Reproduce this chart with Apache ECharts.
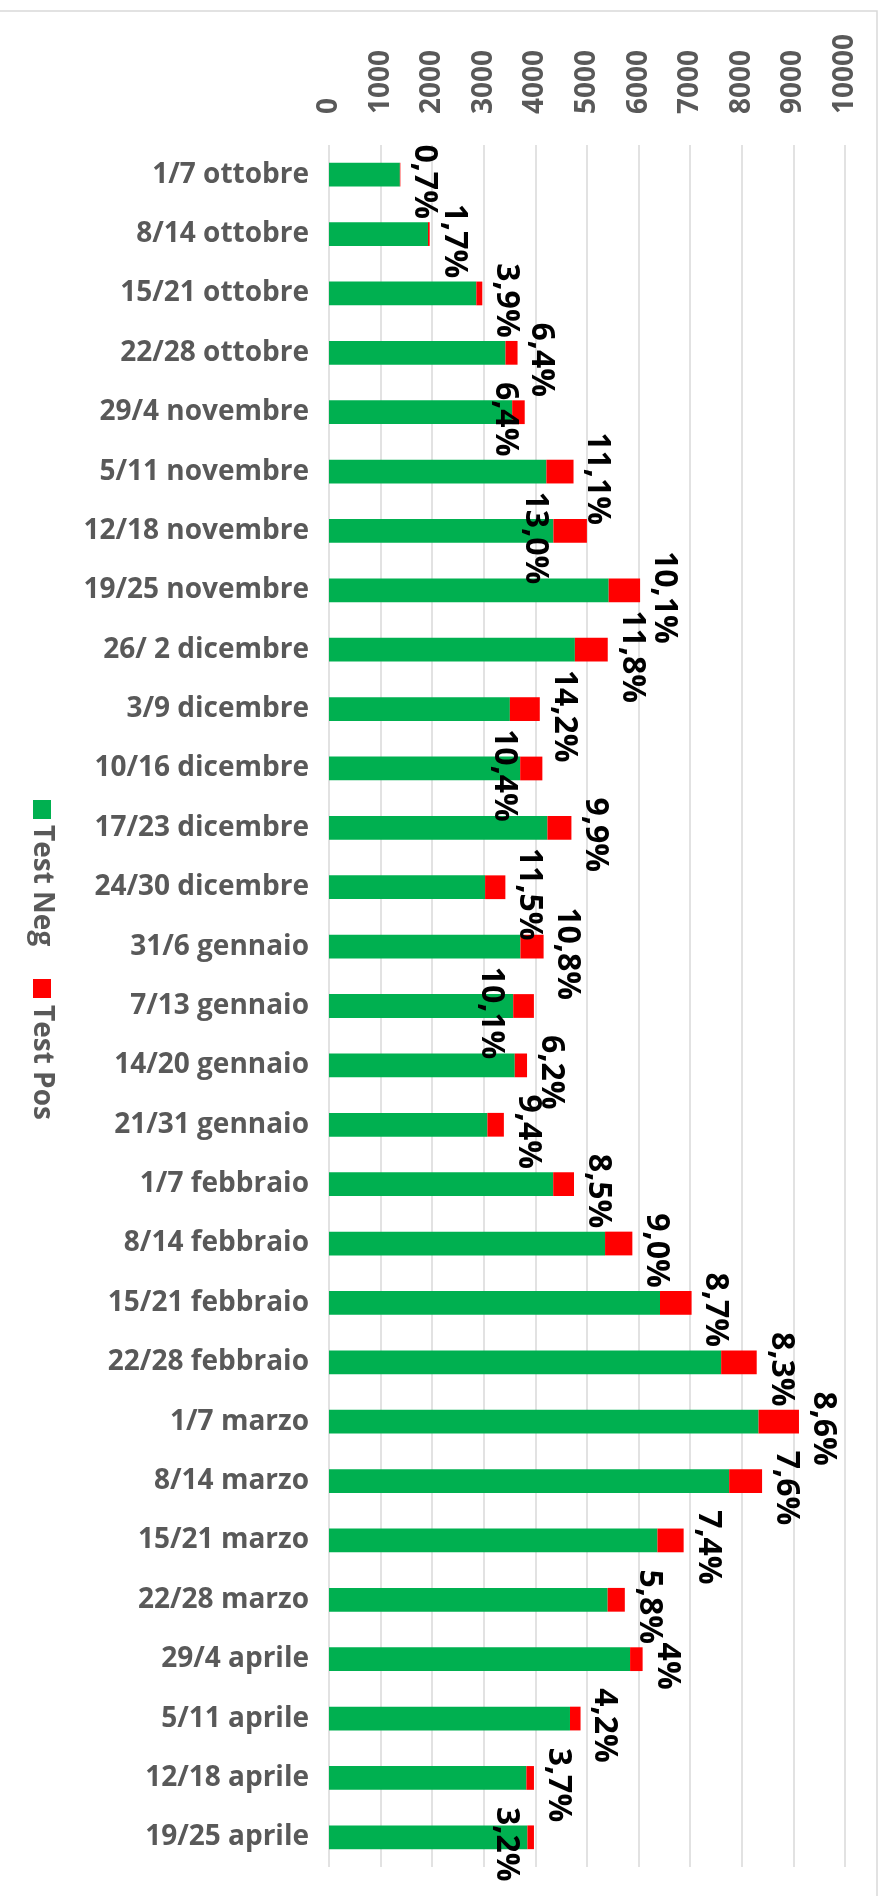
<!DOCTYPE html>
<html>
<head>
<meta charset="utf-8">
<title>Test Neg / Test Pos</title>
<script src="https://cdn.jsdelivr.net/npm/echarts@6/dist/echarts.min.js"></script>
<style>
    html, body { margin: 0; padding: 0; background: #fff; }
    #main { width: 886px; height: 1896px; }
</style>
</head>
<body>
<div id="main"></div>
<script>
// settimane (categorie)
var settimane = [
    '1/7 ottobre', '8/14 ottobre', '15/21 ottobre', '22/28 ottobre',
    '29/4 novembre', '5/11 novembre', '12/18 novembre', '19/25 novembre',
    '26/ 2 dicembre', '3/9 dicembre', '10/16 dicembre', '17/23 dicembre', '24/30 dicembre',
    '31/6 gennaio', '7/13 gennaio', '14/20 gennaio', '21/31 gennaio',
    '1/7 febbraio', '8/14 febbraio', '15/21 febbraio', '22/28 febbraio',
    '1/7 marzo', '8/14 marzo', '15/21 marzo', '22/28 marzo',
    '29/4 aprile', '5/11 aprile', '12/18 aprile', '19/25 aprile'
];
var serieNomi = ['Test Neg', 'Test Pos'];
// test negativi
var testNeg = [
    1373, 1918, 2855, 3420,
    3550, 4213, 4349, 5420,
    4765, 3505, 3705, 4233, 3025,
    3710, 3570, 3600, 3070,
    4345, 5350, 6415, 7600,
    8325, 7755, 6365, 5400,
    5835, 4670, 3825, 3845
];
// test positivi
var testPos = [
    10, 33, 116, 234,
    243, 526, 649, 609,
    637, 580, 430, 465, 393,
    449, 401, 238, 319,
    403, 529, 612, 689,
    783, 638, 508, 333,
    243, 205, 147, 127
];
// percentuale positivi (etichette)
var percentuali = [
    '0,7%', '1,7%', '3,9%', '6,4%',
    '6,4%', '11,1%', '13,0%', '10,1%',
    '11,8%', '14,2%', '10,4%', '9,9%', '11,5%',
    '10,8%', '10,1%', '6,2%', '9,4%',
    '8,5%', '9,0%', '8,7%', '8,3%',
    '8,6%', '7,6%', '7,4%', '5,8%',
    '4%', '4,2%', '3,7%', '3,2%'
];

var FONT = "'Open Sans', 'Noto Sans', sans-serif";
var GRIGIO = '#595959';
var VERDE = '#00b050';
var ROSSO = '#ff0000';

// alcune etichette sono spostate verso sinistra (come nel grafico originale)
var spostaEtichetta = {4: -20, 6: -52, 10: -38, 14: -43, 28: -28};

var datiPos = testPos.map(function (v, i) {
    var item = {value: v};
    if (spostaEtichetta[i] != null) {
        item.label = {distance: spostaEtichetta[i]};
    }
    return item;
});

var myChart = echarts.init(document.getElementById('main'));

var option = {
    backgroundColor: '#fff',
    animation: false,
    grid: {
        left: 329,
        right: 41,
        top: 145,
        bottom: 29
    },
    xAxis: {
        type: 'value',
        position: 'top',
        min: 0,
        max: 10000,
        interval: 1000,
        axisLine: {show: false},
        axisTick: {show: false},
        splitLine: {lineStyle: {color: '#d9d9d9', width: 1.5}},
        axisLabel: {
            rotate: -90,
            margin: 31,
            color: GRIGIO,
            fontFamily: FONT,
            fontWeight: 'bold',
            fontSize: 28,
            formatter: function (v) {
                return String(v);
            }
        }
    },
    yAxis: {
        type: 'category',
        inverse: true,
        data: settimane,
        axisLine: {show: false},
        axisTick: {show: false},
        axisLabel: {
            margin: 20,
            color: GRIGIO,
            fontFamily: FONT,
            fontWeight: 'bold',
            fontSize: 28
        }
    },
    series: [
        {
            name: serieNomi[0],
            type: 'bar',
            stack: 'tot',
            barWidth: '40%',
            itemStyle: {color: VERDE},
            data: testNeg
        },
        {
            name: serieNomi[1],
            type: 'bar',
            stack: 'tot',
            barWidth: '40%',
            itemStyle: {color: ROSSO},
            label: {
                show: true,
                position: 'right',
                distance: 24,
                rotate: -90,
                // offset nel riferimento ruotato: [giù, sinistra]
                offset: [7, 0],
                align: 'center',
                verticalAlign: 'middle',
                color: '#000',
                fontFamily: FONT,
                fontWeight: 'bold',
                fontSize: 32,
                formatter: function (p) {
                    return percentuali[p.dataIndex];
                }
            },
            data: datiPos
        }
    ],
    graphic: [
        {
            type: 'rect',
            silent: true,
            z: -10,
            shape: {x: -2, y: 11, width: 879, height: 1900},
            style: {fill: 'none', stroke: '#d9d9d9', lineWidth: 1.5}
        },
        {
            // legenda ruotata
            type: 'group',
            x: 51,
            y: 800,
            rotation: -Math.PI / 2,
            children: [
                {type: 'rect', shape: {x: 0, y: 0, width: 19, height: 18}, style: {fill: VERDE}},
                {
                    type: 'text', x: 25, y: 9,
                    style: {text: serieNomi[0], fill: GRIGIO, fontFamily: FONT, fontWeight: 'bold', fontSize: 28, verticalAlign: 'middle'}
                },
                {type: 'rect', shape: {x: 179, y: 0, width: 19, height: 18}, style: {fill: ROSSO}},
                {
                    type: 'text', x: 205, y: 9,
                    style: {text: serieNomi[1], fill: GRIGIO, fontFamily: FONT, fontWeight: 'bold', fontSize: 28, verticalAlign: 'middle'}
                }
            ]
        }
    ]
};

myChart.setOption(option);
</script>
</body>
</html>
